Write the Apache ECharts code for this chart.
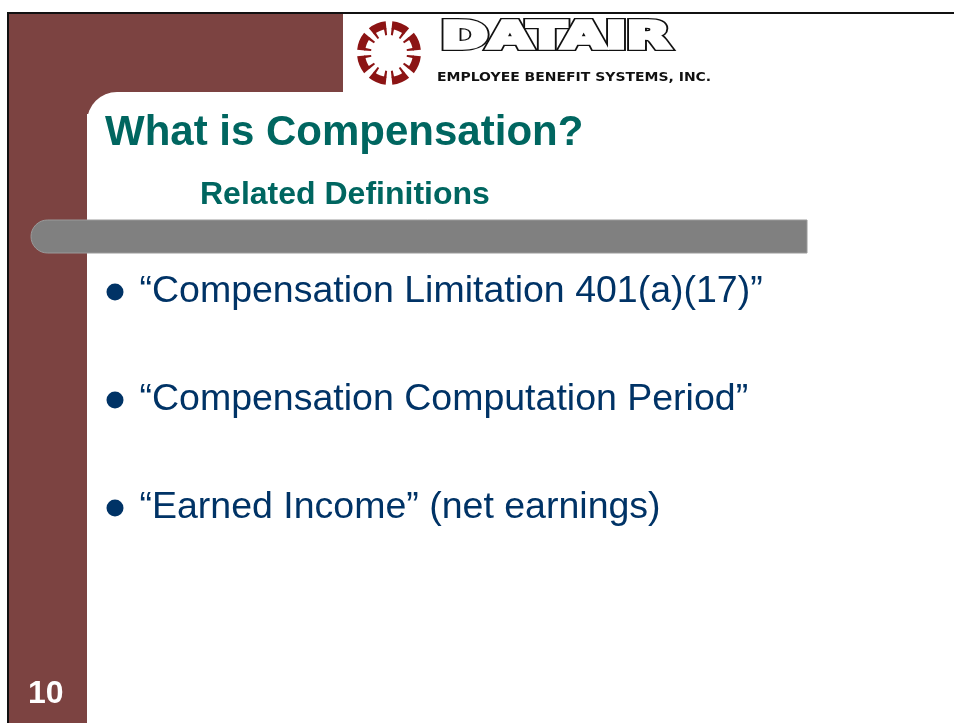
<!DOCTYPE html>
<html>
<head>
<meta charset="utf-8">
<script src="https://cdn.jsdelivr.net/npm/echarts@6/dist/echarts.min.js"></script>
<style>
  html, body { margin: 0; padding: 0; background: #fff; }
  #chart { width: 954px; height: 723px; }
</style>
</head>
<body>
<div id="chart"></div>
<script>
/* Slide 10 - What is Compensation? */

const slideTitle = 'What is Compensation?';
const slideSubtitle = 'Related Definitions';
const pageNumber = '10';
const logoWord = 'DATAIR';
const logoTagline = 'EMPLOYEE BENEFIT SYSTEMS, INC.';
const bulletItems = [
  '\u201cCompensation Limitation 401(a)(17)\u201d',
  '\u201cCompensation Computation Period\u201d',
  '\u201cEarned Income\u201d (net earnings)'
];

const MAROON = '#7c4341';
const TEAL = '#006660';
const NAVY = '#003366';
const FONT = '"Liberation Sans", Arial, sans-serif';
const LOGO_FONT = 'bold 37px "DejaVu Sans", sans-serif';

const chart = echarts.init(document.getElementById('chart'), null, { renderer: 'canvas' });

// Logo ring: 8 bracket shaped segments
function logoGraphics(cx, cy) {
  const out = [];
  const rad = d => d * Math.PI / 180;
  for (let k = 0; k < 8; k++) {
    const a0 = 45 * k + 6, a1 = 45 * k + 39;
    out.push({ type: 'sector', z: 5, shape: { cx, cy, r: 32, r0: 24, startAngle: rad(a0), endAngle: rad(a1) }, style: { fill: '#8c1414' } });
    out.push({ type: 'sector', z: 5, shape: { cx, cy, r: 25, r0: 18, startAngle: rad(a0), endAngle: rad(a0 + 6) }, style: { fill: '#8c1414' } });
    out.push({ type: 'sector', z: 5, shape: { cx, cy, r: 25, r0: 18, startAngle: rad(a1 - 6), endAngle: rad(a1) }, style: { fill: '#8c1414' } });
  }
  return out;
}

const graphics = [
  // maroon frame
  { type: 'rect', z: 1, shape: { x: 8, y: 14, width: 335, height: 100 }, style: { fill: MAROON } },
  { type: 'rect', z: 1, shape: { x: 8, y: 14, width: 79, height: 709 }, style: { fill: MAROON } },
  { type: 'rect', z: 2, shape: { x: 87, y: 92, width: 867, height: 631, r: [30, 0, 0, 0] }, style: { fill: '#fff' } },
  // black border lines
  { type: 'rect', z: 3, shape: { x: 7, y: 12, width: 947, height: 2 }, style: { fill: '#111' } },
  { type: 'rect', z: 3, shape: { x: 7, y: 12, width: 2, height: 711 }, style: { fill: '#111' } },
  // gray divider bar
  { type: 'rect', z: 3, shape: { x: 31, y: 220, width: 776, height: 33, r: [16.5, 0, 0, 16.5] }, style: { fill: '#808080', stroke: '#9a9a9a', lineWidth: 1 } },
  // logo word (heavy outlined letters: black thick stroke, then white body on top)
  { type: 'text', z: 5, x: 441, y: 38.5, scaleX: 1.53, style: { text: logoWord, x: 0, y: 0, font: LOGO_FONT, fill: '#111', stroke: '#111', lineWidth: 6, lineJoin: 'miter', verticalAlign: 'middle' } },
  { type: 'text', z: 6, x: 441, y: 38.5, scaleX: 1.53, style: { text: logoWord, x: 0, y: 0, font: LOGO_FONT, fill: '#fff', stroke: '#fff', lineWidth: 3.5, lineJoin: 'miter', verticalAlign: 'middle' } },
  { type: 'text', z: 5, x: 437, y: 78, scaleX: 1.165, style: { text: logoTagline, x: 0, y: 0, font: 'bold 12px "DejaVu Sans", Verdana, sans-serif', fill: '#111', verticalAlign: 'middle' } },
  // titles
  { type: 'text', z: 5, style: { text: slideTitle, x: 105, y: 133.5, font: 'bold 42px ' + FONT, fill: TEAL, verticalAlign: 'middle' } },
  { type: 'text', z: 5, style: { text: slideSubtitle, x: 200, y: 195, font: 'bold 32px ' + FONT, fill: TEAL, verticalAlign: 'middle' } },
  // page number
  { type: 'text', z: 5, style: { text: pageNumber, x: 28, y: 694, font: 'bold 32px ' + FONT, fill: '#fff', verticalAlign: 'middle' } }
].concat(logoGraphics(389, 53));

const option = {
  animation: false,
  backgroundColor: '#fff',
  graphic: graphics,
  grid: { left: 115, top: 238, width: 700, height: 324 },
  xAxis: { type: 'value', min: 0, max: 1, show: false },
  yAxis: { type: 'category', data: bulletItems, inverse: true, show: false },
  series: [{
    type: 'scatter',
    z: 10,
    silent: true,
    symbolSize: 17,
    itemStyle: { color: NAVY, opacity: 1 },
    data: bulletItems.map(t => [0, t]),
    label: {
      show: true,
      position: 'right',
      distance: 16,
      offset: [0, 0],
      formatter: p => p.value[1],
      color: NAVY,
      opacity: 1,
      fontSize: 37.5,
      fontFamily: FONT
    }
  }]
};

chart.setOption(option);
</script>
</body>
</html>
